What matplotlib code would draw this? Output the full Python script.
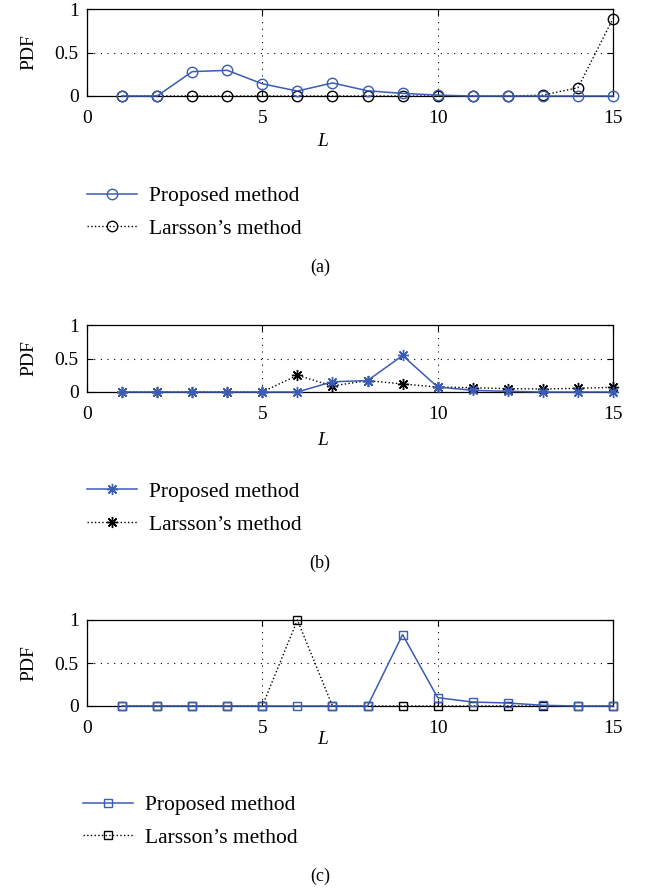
import matplotlib
matplotlib.use("Agg")
import matplotlib.pyplot as plt
from matplotlib.lines import Line2D

L = list(range(1, 16))

prop_a = [0, 0, 0.28, 0.295, 0.14, 0.057, 0.15, 0.06, 0.03, 0.01, 0, 0, 0, 0, 0]
lars_a = [0, 0, 0, 0, 0, 0, 0, 0, 0, 0, 0, 0, 0.01, 0.095, 0.89]

prop_b = [0, 0, 0, 0, 0, 0, 0.153, 0.17, 0.545, 0.074, 0.025, 0.01, 0, 0, 0]
lars_b = [0, 0, 0, 0, 0, 0.25, 0.09, 0.17, 0.12, 0.074, 0.064, 0.05, 0.045, 0.055, 0.07]

prop_c = [0, 0, 0, 0, 0, 0, 0, 0, 0.83, 0.097, 0.046, 0.035, 0.008, 0, 0]
lars_c = [0, 0, 0, 0, 0, 1.0, 0, 0, 0, 0, 0, 0, 0, 0, 0]

xticks = [0, 5, 10, 15]
yticks = [0, 0.5, 1]
ytick_labels = ["0", "0.5", "1"]
labels = ["Proposed method", "Larsson\u2019s method"]
captions = ["(a)", "(b)", "(c)"]

BLUE = "#3a5cb4"
plt.rcParams["font.family"] = ["Liberation Serif", "DejaVu Serif"]
plt.rcParams["font.size"] = 14

W, H = 645, 892
fig = plt.figure(figsize=(W / 100, H / 100), dpi=100)

ASTER = (8, 2, 0)
panels = [
    dict(top=9, bot=96, xl=141, leg=(196, 229), cap=267, marker="o", ms=7.5, legx=87),
    dict(top=325, bot=392, xl=441, leg=(491, 525), cap=563, marker=ASTER, ms=8, legx=87),
    dict(top=620, bot=706, xl=740, leg=(805, 838), cap=876, marker="s", ms=5.5, legx=83),
]
series = [(prop_a, lars_a), (prop_b, lars_b), (prop_c, lars_c)]
left, right = 87, 613

for p, (pr, la), cap in zip(panels, series, captions):
    ax = fig.add_axes([left / W, 1 - p["bot"] / H, (right - left) / W, (p["bot"] - p["top"]) / H])
    ax.plot(L, la, linestyle=":", color="black", linewidth=1.0, marker=p["marker"],
            markersize=p["ms"], markerfacecolor="none",
            markeredgecolor="black", markeredgewidth=1.0, clip_on=False, zorder=3)
    ax.plot(L, pr, linestyle="-", color=BLUE, linewidth=1.1, marker=p["marker"],
            markersize=p["ms"], markerfacecolor="none",
            markeredgecolor=BLUE, markeredgewidth=1.0, clip_on=False, zorder=4)
    ax.set_xlim(0, 15)
    ax.set_ylim(0, 1)
    ax.set_xticks(xticks)
    ax.set_yticks(yticks)
    ax.set_yticklabels(ytick_labels)
    ax.grid(True, linestyle=(0, (1, 5)), color="black", linewidth=0.8)
    ax.tick_params(direction="in", top=True, right=True, length=4, width=0.8)
    ax.tick_params(axis="x", pad=10)
    ax.tick_params(axis="y", pad=6)
    for s in ax.spines.values():
        s.set_linewidth(0.9)
    ax.set_ylabel("PDF", labelpad=12)
    ax.text(0.5, 1 - p["xl"] / H, "L", transform=fig.transFigure, ha="center", va="center",
            style="italic", fontsize=14)
    handles = [
        Line2D([], [], linestyle="-", color=BLUE, linewidth=1.1, marker=p["marker"],
               markersize=p["ms"], markerfacecolor="none", markeredgecolor=BLUE),
        Line2D([], [], linestyle=":", color="black", linewidth=1.0, marker=p["marker"],
               markersize=p["ms"], markerfacecolor="none", markeredgecolor="black"),
    ]
    ymid = (p["leg"][0] + p["leg"][1]) / 2
    fig.legend(handles, labels, loc="center left",
               bbox_to_anchor=(p["legx"] / W, 1 - ymid / H), bbox_transform=fig.transFigure,
               frameon=False, handlelength=2.3, handletextpad=0.6, labelspacing=0.6,
               borderpad=0, borderaxespad=0, numpoints=1, fontsize=15.5)
    fig.text(320 / W, 1 - p["cap"] / H, cap, ha="center", va="center", fontsize=13)

fig.savefig("out.png", dpi=100)
